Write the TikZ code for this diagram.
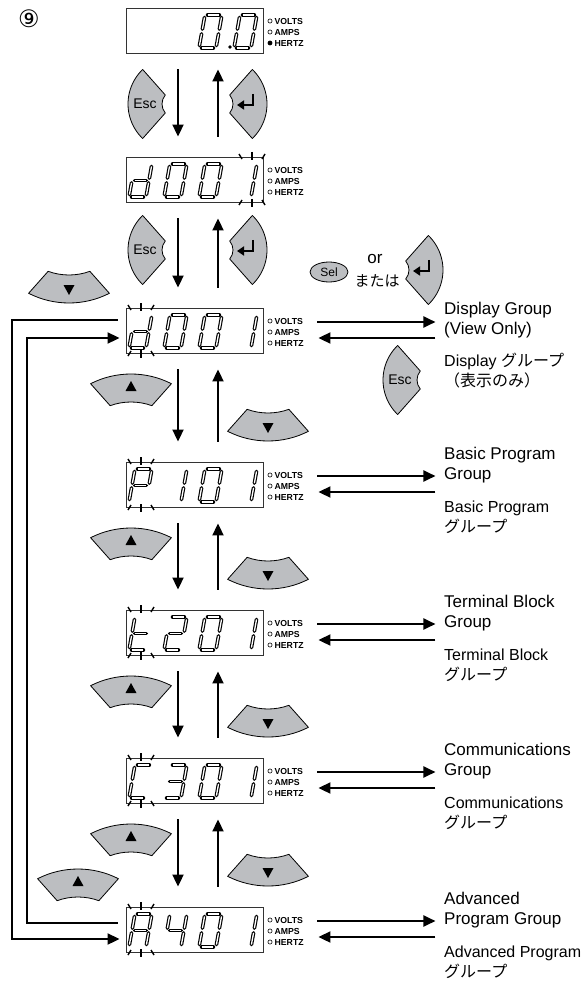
\documentclass[tikz,border=0pt]{standalone}
\usepackage{fontspec}
\setmainfont{Liberation Sans}
\newfontfamily\jpfont{Noto Sans CJK JP}
\newfontfamily\symfont{DejaVu Sans}
\usetikzlibrary{arrows.meta,calc,shapes.geometric}

\definecolor{keygray}{RGB}{188,190,193}

\tikzset{
  lcd/.style={draw=black!80, line width=0.9pt, minimum width=137pt, minimum height=45pt, inner sep=0pt},
  ledtext/.style={font=\fontsize{8.7}{11}\selectfont\bfseries, align=left, inner sep=0pt, anchor=west},
  keyface/.style={fill=keygray, draw=black, line width=0.8pt, line join=round},
  keylabel/.style={font=\fontsize{14}{14}\selectfont, inner sep=0pt},
  flow/.style={line width=2pt, -{Triangle[length=12pt,width=11pt]}},
  segout/.style={line width=3.6pt, line cap=round},
  segin/.style={white, line width=1.3pt},
  blinktick/.style={line width=1.4pt},
  grp/.style={font=\fontsize{17}{20}\selectfont, align=left, inner sep=0pt, anchor=west},
  grpjp/.style={font=\fontsize{16}{20}\selectfont, align=left, inner sep=0pt, anchor=west},
}

\newcommand{\drawseg}[2]{\draw[segout] #1 -- #2; \draw[segin] #1 -- #2;}
\newcommand{\lcdsega}{\drawseg{(2.6,33)}{(14.4,33)}}
\newcommand{\lcdsegb}{\drawseg{(17,30.6)}{(17,18.8)}}
\newcommand{\lcdsegc}{\drawseg{(17,14.2)}{(17,2.4)}}
\newcommand{\lcdsegd}{\drawseg{(2.6,0)}{(14.4,0)}}
\newcommand{\lcdsege}{\drawseg{(0,2.4)}{(0,14.2)}}
\newcommand{\lcdsegf}{\drawseg{(0,18.8)}{(0,30.6)}}
\newcommand{\lcdsegg}{\drawseg{(2.6,16.5)}{(14.4,16.5)}}
\newcommand{\lcdchar}[3]{%
  \begin{scope}[shift={(#1,-#2-40)}, xslant=0.18]
    \foreach \s in {#3} {\csname lcdseg\s\endcsname}
  \end{scope}}
\newcommand{\blink}[2]{%
  \draw[blinktick] (#1,-#2+5) -- (#1,-#2-3);
  \draw[blinktick] (#1-13,-#2+3) -- (#1-10,-#2-2);
  \draw[blinktick] (#1+13,-#2+3) -- (#1+10,-#2-2);
  \draw[blinktick] (#1,-#2-42) -- (#1,-#2-50);
  \draw[blinktick] (#1-13,-#2-48) -- (#1-10,-#2-43);
  \draw[blinktick] (#1+13,-#2-48) -- (#1+10,-#2-43);}
\newcommand{\arckey}[6]{%
  \draw[keyface] ($(#1)+(#2+#4:#3)$) arc[start angle=#2+#4, end angle=#2-#4, radius=#3]
    -- ($(#1)+(#2-#6:#5)$) arc[start angle=#2-#6, end angle=#2+#6, radius=#5] -- cycle;}
\newcommand{\esckey}[3]{%
  \arckey{#2,-#3}{180}{48}{46}{14}{40}
  \node[keylabel] (#1) at (#2-31,-#3) {Esc};}
\newcommand{\enterkey}[2]{%
  \arckey{#1,-#2}{0}{48}{46}{14}{40}
  \draw[line width=2.2pt, line join=miter, -{Triangle[length=7pt,width=9pt]}]
    (#1+34,-#2+10) -- (#1+34,-#2-1) -- (#1+18,-#2-1);}
\newcommand{\upkey}[2]{%
  \arckey{#1,-#2-89}{90}{89}{27}{61}{20}
  \fill (#1-5.5,-#2-17) -- (#1+5.5,-#2-17) -- (#1,-#2-7) -- cycle;}
\newcommand{\downkey}[2]{%
  \arckey{#1,-#2+89}{270}{89}{27}{61}{20}
  \fill (#1-5.5,-#2+18) -- (#1+5.5,-#2+18) -- (#1,-#2+8) -- cycle;}

\begin{document}
\begin{tikzpicture}[x=1pt,y=1pt]
  \useasboundingbox (0,0) rectangle (587,-981);

  \node[font=\symfont\fontsize{24}{24}\selectfont] (step9) at (29,-19) {⑨};

  \foreach \n/\t in {0/8,1/157,2/308,3/462,4/610,5/758,6/907} {
    \node[lcd] (d\n) at (194.5,-\t-22.5) {};
    \node[ledtext] (led\n) at ([xshift=11pt,yshift=-1.5pt]d\n.east) {VOLTS\\AMPS\\HERTZ};
    \foreach \k in {13,24,35} \draw[line width=0.55pt] (270,-\t-\k) circle (2.1);
  }
  \fill (270,-43) circle (2.1);

  \lcdchar{199}{8}{a,b,c,d,e,f}
  \fill (230,-47) circle (1.9);
  \lcdchar{234}{8}{a,b,c,d,e,f}
  \foreach \t in {157,308,462,610,758,907} {
    \lcdchar{199}{\t}{a,b,c,d,e,f}
    \lcdchar{234}{\t}{b,c}
  }
  \lcdchar{129}{157}{b,c,d,e,g}   \lcdchar{164}{157}{a,b,c,d,e,f}
  \lcdchar{129}{308}{b,c,d,e,g}   \lcdchar{164}{308}{a,b,c,d,e,f}
  \lcdchar{129}{462}{a,b,e,f,g}   \lcdchar{164}{462}{b,c}
  \lcdchar{129}{610}{d,e,f,g}     \lcdchar{164}{610}{a,b,g,e,d}
  \lcdchar{129}{758}{a,d,e,f}     \lcdchar{164}{758}{a,b,c,d,g}
  \lcdchar{129}{907}{a,b,c,e,f,g} \lcdchar{164}{907}{b,c,f,g}
  \blink{252}{157}
  \foreach \t in {308,462,610,758,907} {\blink{141}{\t}}

  \foreach \a/\b in {0/1,1/2,2/3,3/4,4/5,5/6} {
    \draw[flow] ([xshift=-16.5pt,yshift=-16pt]d\a.south) -- ([xshift=-16.5pt,yshift=20pt]d\b.north);
    \draw[flow] ([xshift=23.5pt,yshift=20pt]d\b.north) -- ([xshift=23.5pt,yshift=-16pt]d\a.south);
  }

  \esckey{esc1}{176}{104}
  \enterkey{219}{104}
  \esckey{esc2}{176}{250}
  \enterkey{219}{250}
  \enterkey{395}{270}
  \esckey{esc3}{431}{380}
  \foreach \y in {374,528,676,824} {\upkey{131}{\y}}
  \foreach \y in {441,589,737,886} {\downkey{268}{\y}}
  \downkey{69}{303}
  \upkey{78}{869}

  \node[draw, ellipse, fill=keygray, line width=0.8pt, minimum width=38pt, minimum height=20pt,
        inner sep=0pt, font=\fontsize{12}{12}\selectfont] (sel) at (329,-272) {Sel};
  \node[font=\fontsize{17}{17}\selectfont] (or) at (375,-259) {or};
  \node[font=\jpfont\fontsize{15}{15}\selectfont] (mataha) at (377,-281) {または};

  \foreach \n in {2,...,6} {
    \draw[flow] ([xshift=54pt,yshift=8.5pt]d\n.east) -- ([xshift=172pt,yshift=8.5pt]d\n.east);
    \draw[flow] ([xshift=172pt,yshift=-7.5pt]d\n.east) -- ([xshift=55pt,yshift=-7.5pt]d\n.east);
  }

  \draw[flow] ([xshift=-8pt,yshift=10.5pt]d2.west) -- ++(-106,0) |- ([xshift=-6pt,yshift=-9.5pt]d6.west);
  \draw[flow] ([xshift=-8pt,yshift=6.5pt]d6.west) -- ++(-91,0) |- ([xshift=-6pt,yshift=-7.5pt]d2.west);

  \node[grp] (gdisp) at (444,-320) {Display Group\\(View Only)};
  \node[grpjp] (gdispjp) at (444,-371) {Display {\jpfont グループ}\\{\jpfont （表示のみ）}};
  \node[grp] (gbasic) at (444,-465) {Basic Program\\Group};
  \node[grpjp] (gbasicjp) at (444,-517) {Basic Program\\{\jpfont グループ}};
  \node[grp] (gterm) at (444,-613) {Terminal Block\\Group};
  \node[grpjp] (gtermjp) at (444,-665) {Terminal Block\\{\jpfont グループ}};
  \node[grp] (gcomm) at (444,-761) {Communications\\Group};
  \node[grpjp] (gcommjp) at (444,-813) {Communications\\{\jpfont グループ}};
  \node[grp] (gadv) at (444,-910) {Advanced\\Program Group};
  \node[grpjp] (gadvjp) at (444,-962) {Advanced Program\\{\jpfont グループ}};
\end{tikzpicture}
\end{document}
